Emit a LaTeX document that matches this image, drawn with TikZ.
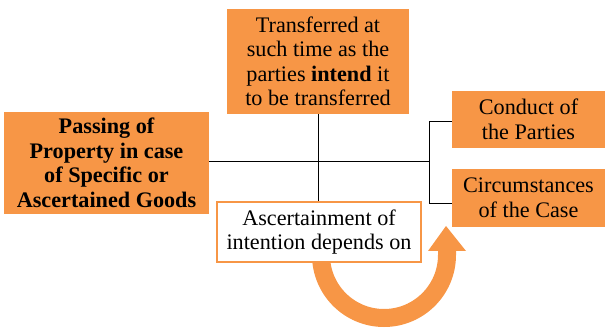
\documentclass[tikz,border=0pt]{standalone}
\usepackage{fontspec}
\setmainfont{Liberation Serif}
\definecolor{org}{HTML}{F79646}
\begin{document}
\begin{tikzpicture}[x=1pt,y=1pt,
  obox/.style={fill=org, draw=none, align=center, inner sep=0pt, font=\fontsize{22.2}{24.5}\selectfont},
  wbox/.style={fill=white, draw=org, line width=2.2pt, align=center, inner sep=0pt, font=\fontsize{22.2}{24.5}\selectfont},
  conn/.style={draw=black, line width=1pt}]
\useasboundingbox (0,0) rectangle (607,-328);
% curved arrow
\draw[org, line width=18pt] (321,-255) arc[start angle=180, end angle=360, radius=63] -- (447,-250);
\fill[org] (428,-251) -- (466,-251) -- (446,-226) -- cycle;
% boxes
\node[obox, minimum width=182, minimum height=105] (top) at (318,-61.5)
  {Transferred at\\such time as the\\parties \textbf{intend} it\\to be transferred};
\node[obox, minimum width=205, minimum height=102, font=\fontsize{22.2}{24.5}\selectfont\bfseries] (left) at (106.5,-163)
  {Passing of\\Property in case\\of Specific or\\Ascertained Goods};
\node[obox, minimum width=153, minimum height=57] (rt) at (528.5,-119.5) {Conduct of\\the Parties};
\node[obox, minimum width=153, minimum height=58] (rb) at (528.5,-198) {Circumstances\\of the Case};
\node[wbox, minimum width=204, minimum height=60] (wb) at (319,-232) {Ascertainment of\\intention depends on};
% connectors
\coordinate (br) at (429,-162);
\draw[conn] (left.east |- br) -- (br);
\draw[conn] (top.south) -- (top.south |- wb.north);
\draw[conn] (br) |- ([yshift=-2.5pt]rt.west);
\draw[conn] (br) |- ([yshift=-6pt]rb.west);
\end{tikzpicture}
\end{document}
